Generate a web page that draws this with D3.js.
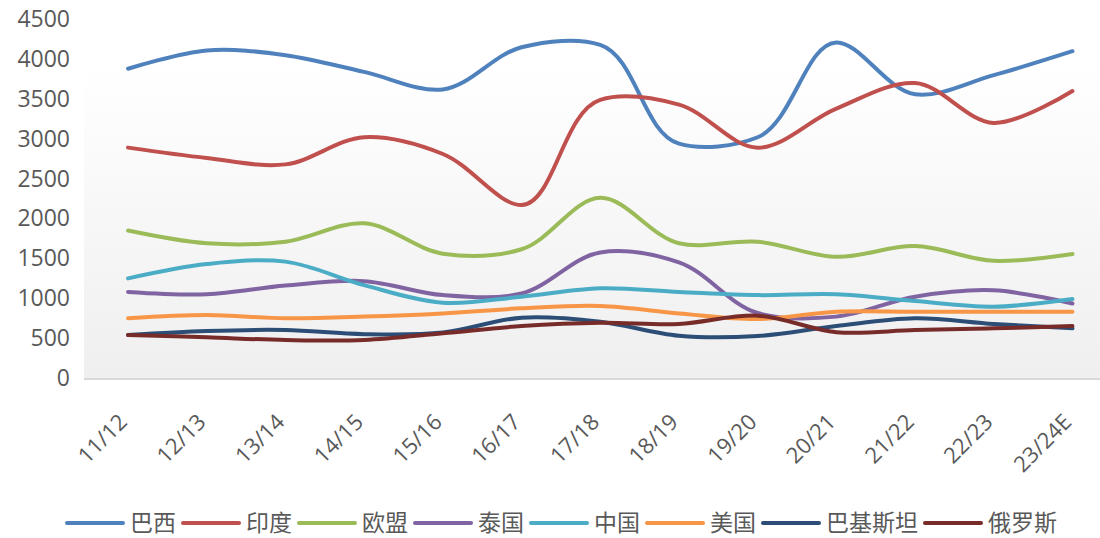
<!DOCTYPE html>
<html>
<head>
<meta charset="utf-8">
<script src="https://cdn.jsdelivr.net/npm/d3@7"></script>
<style>
  html, body { margin: 0; padding: 0; background: #ffffff; }
  svg { display: block; }
</style>
</head>
<body>
<svg id="chart" width="1100" height="538"></svg>
<script>
const categories = ["11/12","12/13","13/14","14/15","15/16","16/17","17/18","18/19","19/20","20/21","21/22","22/23","23/24E"];
const seriesNames = ["巴西","印度","欧盟","泰国","中国","美国","巴基斯坦","俄罗斯"];
const brazil   = [3880, 4110, 4050, 3840, 3620, 4150, 4180, 2940, 3020, 4210, 3560, 3800, 4100];
const india    = [2890, 2760, 2680, 3020, 2810, 2170, 3490, 3430, 2890, 3380, 3700, 3200, 3600];
const eu       = [1850, 1690, 1710, 1940, 1560, 1615, 2260, 1690, 1710, 1520, 1655, 1470, 1555];
const thailand = [1080, 1050, 1160, 1215, 1040, 1060, 1575, 1450, 815, 770, 1020, 1100, 935];
const china    = [1250, 1430, 1460, 1165, 945, 1020, 1125, 1080, 1040, 1050, 965, 895, 990];
const usa      = [750, 790, 750, 770, 810, 874, 903, 810, 740, 832, 832, 832, 832];
const pakistan = [540, 590, 602, 550, 570, 757, 707, 530, 527, 652, 749, 678, 623];
const russia   = [540, 510, 477, 477, 561, 652, 694, 678, 782, 575, 602, 623, 652];
const yTicks   = [0, 500, 1000, 1500, 2000, 2500, 3000, 3500, 4000, 4500];
const colors   = ["#4F81BD","#C0504D","#9BBB59","#8064A2","#4BACC6","#F79646","#2C4D75","#772C2A"];

const seriesValues = [brazil, india, eu, thailand, china, usa, pakistan, russia];

const svg = d3.select("#chart");
const W = 1100, H = 538;
const plotLeft = 88.7, plotRight = 1111.8, plotBottom = 378, plotTop = 19.3;

const x = d3.scaleBand().domain(categories).range([plotLeft, plotRight]);
const y = d3.scaleLinear().domain([0, 4500]).range([plotBottom, plotTop]);
const cx = c => x(c) + x.bandwidth() / 2;

// plot area gradient background
const defs = svg.append("defs");
const grad = defs.append("linearGradient").attr("id", "bg").attr("x1", 0).attr("y1", 0).attr("x2", 0).attr("y2", 1);
grad.append("stop").attr("offset", "0%").attr("stop-color", "#ffffff");
grad.append("stop").attr("offset", "100%").attr("stop-color", "#efefef");
svg.append("rect").attr("x", 84).attr("y", 67).attr("width", W - 84).attr("height", plotBottom - 67)
  .attr("fill", "url(#bg)");

// x axis line
svg.append("line").attr("x1", 84).attr("x2", W).attr("y1", plotBottom + 1).attr("y2", plotBottom + 1)
  .attr("stroke", "#d9d9d9").attr("stroke-width", 2);

// y axis labels
const yAxis = d3.axisLeft(y).tickValues(yTicks).tickFormat(d3.format("d")).tickSize(0).tickPadding(0);
const yg = svg.append("g").attr("transform", "translate(70,0)").call(yAxis);
yg.select(".domain").remove();
yg.selectAll("text").attr("font-family", "'Open Sans', 'Noto Sans', sans-serif")
  .attr("font-size", 23).attr("fill", "#595959");

// x axis labels (rotated)
const xAxis = d3.axisBottom(x).tickSize(0).tickPadding(0);
const xg = svg.append("g").attr("transform", `translate(0,${plotBottom})`).call(xAxis);
xg.select(".domain").remove();
xg.selectAll(".tick text")
  .attr("font-family", "'Open Sans', 'Noto Sans', sans-serif")
  .attr("font-size", 22).attr("fill", "#595959")
  .attr("text-anchor", "end")
  .attr("x", 0).attr("y", 0).attr("dy", "0.35em")
  .attr("transform", "translate(-5,40) rotate(-45)");

// lines
const line = d3.line()
  .x((d, i) => cx(categories[i]))
  .y(d => y(d))
  .curve(d3.curveCatmullRom.alpha(1));

svg.append("g").selectAll("path").data(seriesValues).join("path")
  .attr("d", d => line(d))
  .attr("fill", "none")
  .attr("stroke", (d, i) => colors[i])
  .attr("stroke-width", 4)
  .attr("stroke-linecap", "round")
  .attr("stroke-linejoin", "round");

// legend
const lg = svg.append("g");
let lx = 67;
const ly = 523;
seriesNames.forEach((name, i) => {
  lg.append("line").attr("x1", lx).attr("x2", lx + 56).attr("y1", ly).attr("y2", ly)
    .attr("stroke", colors[i]).attr("stroke-width", 4).attr("stroke-linecap", "round");
  const t = lg.append("text").attr("x", lx + 63).attr("y", ly).attr("dy", "0.36em")
    .attr("font-family", "'Noto Sans CJK SC', sans-serif").attr("font-size", 23)
    .attr("fill", "#595959").text(name);
  const w = t.node().getComputedTextLength();
  lx = lx + 63 + w + 7;
});
</script>
</body>
</html>
